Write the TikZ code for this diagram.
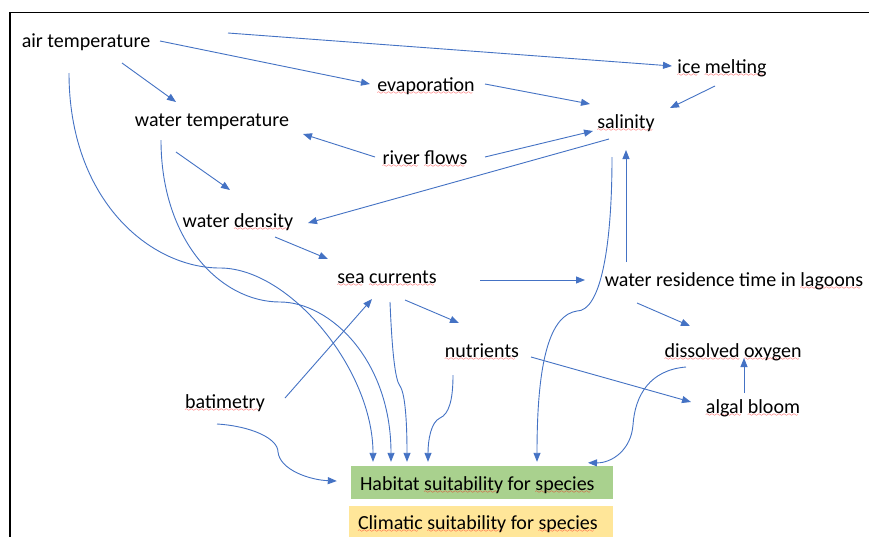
\documentclass[tikz,border=0pt]{standalone}
\usepackage{fontspec}
\setmainfont{Carlito}
\usetikzlibrary{arrows.meta}
\definecolor{arrowblue}{HTML}{4472C4}
\definecolor{habgreen}{HTML}{A9D18E}
\definecolor{climyellow}{HTML}{FFE699}
% red wavy underline for flagged words
\font\squigglefont=lasy6
\newcommand\sq[1]{\setbox0=\hbox{#1}\leavevmode
  \rlap{\color{red}\hbox to \wd0{\leaders\hbox{\lower3.5pt\hbox{\squigglefont\char58}}\hfill}}\box0\relax}
\begin{document}
\begin{tikzpicture}[x=1pt,y=-1pt,
  lbl/.style={anchor=base, inner sep=0pt, font=\fontsize{20}{24}\selectfont},
  arr/.style={draw=arrowblue, line width=0.9pt, -{Triangle[length=9pt,width=7pt]}},
  resbox/.style={inner sep=0pt, font=\fontsize{20}{24}\selectfont}]
\useasboundingbox (0,0) rectangle (869,536);
\fill[white] (0,0) rectangle (869,536);
% frame
\draw[line width=1.8pt] (10,540) -- (10,12.5) -- (872,12.5);

% factors
\node[lbl] (airT)   at (86,47)   {air temperature};
\node[lbl] (waterT) at (212,126) {water temperature};
\node[lbl] (evap)   at (426,91)  {\sq{evaporation}};
\node[lbl] (ice)    at (722,73)  {\sq{ice} \sq{melting}};
\node[lbl] (sal)    at (626,128) {\sq{salinity}};
\node[lbl] (river)  at (425,164) {\sq{river} \sq{flows}};
\node[lbl] (dens)   at (238,227) {water \sq{density}};
\node[lbl] (sea)    at (387,283) {\sq{sea} \sq{currents}};
\node[lbl] (res)    at (734,286) {water residence time in \sq{lagoons}};
\node[lbl] (nut)    at (482,357) {\sq{nutrients}};
\node[lbl] (oxy)    at (733,357) {\sq{dissolved} \sq{oxygen}};
\node[lbl] (bat)    at (225,408) {\sq{batimetry}};
\node[lbl] (algal)  at (753,413) {\sq{algal} \sq{bloom}};

% outcome boxes
\node[resbox, fill=habgreen, minimum width=262pt, minimum height=33pt,
      text height=17pt, text depth=2pt] (hab) at (482,482.5)
      {\hbox to 244pt{Habitat \sq{suitability} for \sq{species}\hfill}};
\node[resbox, fill=climyellow, minimum width=264pt, minimum height=34pt,
      text height=15pt, text depth=3pt] (clim) at (481,523)
      {\hbox to 246pt{\sq{Climatic} \sq{suitability} for \sq{species}\hfill}};

% straight links
\draw[arr] ([shift={(142,-14)}]airT.base) -- ([shift={(-50,-7)}]ice.base);
\draw[arr] ([shift={(74,-6)}]airT.base) -- ([shift={(-56,-7)}]evap.base);
\draw[arr] ([shift={(36,16)}]airT.base) -- ([shift={(-36,-24)}]waterT.base);
\draw[arr] ([shift={(59,-7)}]evap.base) -- ([shift={(-36,-24)}]sal.base);
\draw[arr] ([shift={(-7,13)}]ice.base) -- ([shift={(44,-20)}]sal.base);
\draw[arr] ([shift={(-50,-7)}]river.base) -- ([shift={(91,8)}]waterT.base);
\draw[arr] ([shift={(60,-7)}]river.base) -- ([shift={(-33,3)}]sal.base);
\draw[arr] ([shift={(-17,11)}]sal.base) -- ([shift={(70,-4)}]dens.base);
\draw[arr] ([shift={(-36,26)}]waterT.base) -- ([shift={(-8,-37)}]dens.base);
\draw[arr] ([shift={(37,10)}]dens.base) -- ([shift={(-59,-24)}]sea.base);
\draw[arr] ([shift={(93,-3)}]sea.base) -- ([shift={(-149,-6)}]res.base);
\draw[arr] ([shift={(-108,-24)}]res.base) -- ([shift={(0,22)}]sal.base);
\draw[arr] ([shift={(18,17)}]sea.base) -- ([shift={(-23,-34)}]nut.base);
\draw[arr] ([shift={(-97,17)}]res.base) -- ([shift={(-43,-31)}]oxy.base);
\draw[arr] ([shift={(49,0)}]nut.base) -- ([shift={(-62,-11)}]algal.base);
\draw[arr] ([shift={(-9,-20)}]algal.base) -- ([shift={(11,1)}]oxy.base);
\draw[arr] ([shift={(60,-10)}]bat.base) -- ([shift={(-15,16)}]sea.base);

% curved links into habitat suitability
\draw[arr] ([shift={(-17,26)}]airT.base) .. controls (69,200) and (150,268) .. (220,268)
  .. controls (290,268) and (373,370) .. ([shift={(-109,-4)}]hab.north);
\draw[arr] ([shift={(-51,14)}]waterT.base) .. controls (161,240) and (220,302) .. (280,302)
  .. controls (330,302) and (391,360) .. ([shift={(-91,-4)}]hab.north);
\draw[arr] ([shift={(3,19)}]sea.base) .. controls (392,350) and (395,380) .. (400,386)
  .. controls (406,395) and (407,430) .. ([shift={(-75,-4)}]hab.north);
\draw[arr] ([shift={(-29,18)}]nut.base) .. controls (453,400) and (449,414) .. (440,418)
  .. controls (431,422) and (428,440) .. ([shift={(-54,-4)}]hab.north);
\draw[arr] ([shift={(-14,29)}]sal.base) .. controls (612,250) and (600,311) .. (577,311)
  .. controls (550,315) and (537,360) .. ([shift={(55,-4)}]hab.north);
\draw[arr] ([shift={(-47,10)}]oxy.base) .. controls (650,370) and (635,395) .. (633,425)
  .. controls (631,450) and (612,463) .. ([shift={(106,-3)}]hab.north);
\draw[arr] ([shift={(-8,16)}]bat.base) .. controls (250,426) and (278,438) .. (278,452)
  .. controls (280,470) and (310,480) .. ([shift={(-14,-1.5)}]hab.west);
\end{tikzpicture}
\end{document}
